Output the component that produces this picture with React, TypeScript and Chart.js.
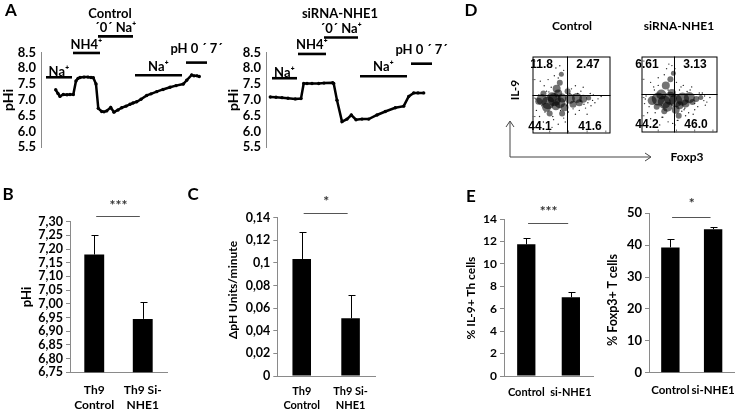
import React, { useEffect, useRef } from 'react';
import { Chart, registerables } from 'chart.js';

Chart.register(...registerables);

const FONT = 'Lato, "Open Sans", "DejaVu Sans", sans-serif';
const FLOW_FONT = '"Liberation Sans", Arial, sans-serif';
const AXIS_GREY = '#8a8a8a';

// ---------------- Panel A : pHi traces ----------------
const ctrlTime = [14.7, 17, 19, 22.3, 26, 29, 32.3, 35, 37, 39, 43, 47, 50, 52.3, 55, 57.3, 60.7, 63, 65.7, 69.7, 73, 77, 80.7, 85, 89, 92, 95.7, 100, 105.7, 110, 115.7, 122, 129, 135, 142.3, 145.7, 150.7, 153, 156, 158.3];
const ctrlPHi = [7.32, 7.2, 7.11, 7.17, 7.16, 7.17, 7.17, 7.6, 7.68, 7.71, 7.72, 7.72, 7.71, 7.7, 7.5, 6.73, 6.63, 6.62, 6.65, 6.76, 6.61, 6.68, 6.75, 6.8, 6.86, 6.9, 6.94, 7.02, 7.14, 7.19, 7.26, 7.33, 7.4, 7.45, 7.5, 7.62, 7.79, 7.76, 7.76, 7.74];
const siTime = [4.3, 10, 16, 22, 29.3, 35, 37.7, 41, 46, 52.7, 58, 66.7, 67.7, 71, 76, 81, 85.3, 90, 96, 102.7, 111, 119.3, 129.3, 137.7, 142.7, 147.7, 152, 157.7];
const siPHi = [7.09, 7.08, 7.07, 7.05, 7.03, 7.04, 7.52, 7.52, 7.52, 7.52, 7.53, 7.54, 7.52, 6.99, 6.31, 6.39, 6.52, 6.37, 6.39, 6.39, 6.52, 6.63, 6.75, 6.8, 7.11, 7.22, 7.22, 7.22];
const pHiTicks = [5.5, 6.0, 6.5, 7.0, 7.5, 8.0, 8.5];

const annLabels = ['Na⁺', 'NH4⁺', '´0´ Na⁺', 'Na⁺', 'pH 0 ´ 7´'];
const ctrlAnnStart = [5, 32, 57, 94, 145];
const ctrlAnnEnd = [31, 59, 92, 141, 166];
const ctrlAnnLevel = [7.715, 8.485, 9.01, 7.777, 8.18];
const ctrlAnnLabelLevel = [7.9, 8.73, 9.28, 8.05, 8.61];
const siAnnStart = [6, 32, 58, 94, 145];
const siAnnEnd = [31, 60, 92, 141, 166];
const siAnnLevel = [7.685, 8.454, 8.977, 7.746, 8.146];
const siAnnLabelLevel = [7.87, 8.73, 9.254, 8.05, 8.577];

// ---------------- Panel D : flow cytometry ----------------
const ctrlQuad = [43.7, 50.5];
const siQuad = [42.4, 51];
const ctrlQuadLabels = ['11.8', '2.47', '44.1', '41.6'];
const siQuadLabels = ['6.61', '3.13', '44.2', '46.0'];
const ctrlCloudX = [12, 20, 28, 35, 18, 30, 38, 8, 31, 35, 37, 33, 48, 57, 65, 72, 52, 60, 22, 38, 14, 45, 25, 41];
const ctrlCloudY = [44, 40, 44, 40, 34, 36, 46, 42, 58, 66, 77, 52, 45, 46, 45, 46, 38, 40, 26, 26, 52, 55, 47, 34];
const ctrlCloudR = [5.5, 6.5, 6.5, 5.5, 4.5, 4.5, 4.5, 3.5, 4, 3, 2.5, 4, 5, 5, 4, 2.5, 3.5, 3.5, 3, 3, 3, 3, 5, 4];
const ctrlDotX = [5, 9, 14, 18, 24, 27, 33, 40, 46, 50, 55, 62, 68, 74, 80, 84, 88, 10, 20, 30, 45, 55, 65, 75, 8, 16, 26, 42, 52, 60, 28, 35, 40, 70, 78, 25, 15, 48, 58, 66, 4, 12, 36, 44, 62, 71, 77, 53, 33, 21];
const ctrlDotY = [30, 22, 15, 55, 60, 18, 12, 20, 28, 58, 25, 55, 33, 52, 40, 45, 48, 68, 70, 85, 60, 62, 60, 36, 50, 28, 22, 15, 32, 30, 75, 88, 82, 25, 50, 8, 62, 52, 52, 38, 45, 36, 30, 36, 42, 40, 43, 50, 72, 54];
const siCloudX = [14, 22, 30, 38, 26, 34, 45, 54, 63, 72, 50, 58, 32, 38, 42, 45, 49, 20, 30, 78, 40, 67];
const siCloudY = [42, 44, 40, 45, 50, 34, 42, 44, 46, 44, 36, 38, 62, 70, 78, 30, 22, 34, 28, 46, 52, 40];
const siCloudR = [4.5, 6.5, 6.5, 6.5, 5, 5, 6.5, 6.5, 5.5, 3, 4, 4, 4, 3, 2.5, 4, 3, 3, 3, 2.5, 4, 3];
const siDotX = [4, 8, 12, 17, 22, 28, 35, 41, 47, 53, 58, 64, 70, 76, 82, 86, 90, 12, 22, 33, 40, 55, 66, 74, 6, 18, 27, 44, 56, 62, 30, 36, 44, 68, 80, 24, 16, 50, 60, 84, 5, 10, 26, 48, 70, 83, 57, 35, 46, 52];
const siDotY = [38, 26, 18, 56, 62, 20, 14, 12, 16, 28, 22, 56, 30, 52, 42, 40, 46, 66, 72, 84, 88, 62, 60, 34, 48, 26, 20, 10, 30, 26, 76, 90, 84, 24, 52, 10, 60, 56, 54, 36, 44, 34, 36, 16, 38, 48, 32, 56, 66, 60];
const flowTickValues = [22, 46, 70, 94];

// ---------------- Panels B, C, E : bar charts ----------------
const th9Cats = [['Th9', 'Control'], ['Th9 Si-', 'NHE1']];
const eCats = ['Control', 'si-NHE1'];
const bPHi = [7.18, 6.945];
const bErr = [0.07, 0.06];
const bTicks = [6.75, 6.8, 6.85, 6.9, 6.95, 7.0, 7.05, 7.1, 7.15, 7.2, 7.25, 7.3];
const cRate = [0.1035, 0.051];
const cErr = [0.0235, 0.0203];
const cTicks = [0, 0.02, 0.04, 0.06, 0.08, 0.1, 0.12, 0.14];
const cTickLabels = ['0', '0,02', '0,04', '0,06', '0,08', '0,1', '0,12', '0,14'];
const eIl9 = [11.74, 7.02];
const eIl9Err = [0.53, 0.44];
const eIl9Ticks = [0, 2, 4, 6, 8, 10, 12, 14];
const eFoxp3 = [39.3, 45.0];
const eFoxp3Err = [2.5, 0.8];
const eFoxp3Ticks = [0, 10, 20, 30, 40, 50];

// ---------------- helpers ----------------
function ChartBox({ left, top, width, height, make }: any) {
  const ref = useRef<HTMLCanvasElement>(null);
  useEffect(() => {
    const chart = new Chart(ref.current as HTMLCanvasElement, make());
    return () => chart.destroy();
  }, []);
  return (
    <canvas
      ref={ref}
      width={width}
      height={height}
      style={{ position: 'absolute', left, top, width, height }}
    />
  );
}

function Txt({ x, y, size = 12, rot = false, children, weight = 'bold', family = FONT }: any) {
  return (
    <div
      style={{
        position: 'absolute',
        left: x,
        top: y,
        transform: `translate(-50%, -50%)${rot ? ' rotate(-90deg)' : ''}`,
        whiteSpace: 'nowrap',
        fontSize: size,
        fontWeight: weight,
        lineHeight: 1,
        fontFamily: family,
        color: '#000',
      }}
    >
      {children}
    </div>
  );
}

function annotationPlugin(start: number[], end: number[], level: number[], labelLevel: number[]) {
  return {
    id: 'solutionBars',
    afterDraw(chart: any) {
      const { ctx, scales } = chart;
      const x = scales.x;
      const y = scales.y;
      ctx.save();
      ctx.strokeStyle = '#000';
      ctx.lineWidth = 2.6;
      ctx.fillStyle = '#000';
      ctx.font = `bold 13px ${FONT}`;
      ctx.textAlign = 'center';
      ctx.textBaseline = 'middle';
      start.forEach((s, i) => {
        const x0 = x.getPixelForValue(s);
        const x1 = x.getPixelForValue(end[i]);
        const py = y.getPixelForValue(level[i]);
        ctx.beginPath();
        ctx.moveTo(x0, py);
        ctx.lineTo(x1, py);
        ctx.stroke();
        ctx.fillText(annLabels[i], (x0 + x1) / 2, y.getPixelForValue(labelLevel[i]));
      });
      ctx.restore();
    },
  };
}

function traceConfig(time: number[], phi: number[], aS: number[], aE: number[], aL: number[], aLL: number[], padRight: number) {
  return {
    type: 'line',
    data: {
      datasets: [
        {
          data: time.map((t, i) => ({ x: t, y: phi[i] })),
          borderColor: '#000',
          backgroundColor: '#000',
          borderWidth: 2.5,
          pointRadius: 1.7,
          pointBorderWidth: 0,
          tension: 0,
          clip: false,
        },
      ],
    },
    options: {
      responsive: false,
      animation: false,
      layout: { padding: { top: 52.5, bottom: 10, left: 0, right: padRight } },
      plugins: { legend: { display: false }, tooltip: { enabled: false } },
      scales: {
        x: { type: 'linear', display: false, min: 0, max: 170 },
        y: {
          min: 5.5,
          max: 8.5,
          afterBuildTicks: (ax: any) => {
            ax.ticks = pHiTicks.map((v) => ({ value: v }));
          },
          afterFit: (ax: any) => {
            ax.width = 41;
          },
          ticks: {
            color: '#000',
            padding: 5,
            autoSkip: false,
            font: { family: FONT, size: 13, weight: 'bold' },
            callback: (v: any) => Number(v).toFixed(1),
          },
          grid: { display: false, drawTicks: false },
          border: { display: true, color: AXIS_GREY, width: 1 },
        },
      },
    },
    plugins: [annotationPlugin(aS, aE, aL, aLL)],
  };
}

function flowFramePlugin(quad: number[]) {
  return {
    id: 'flowFrame',
    afterDraw(chart: any) {
      const { ctx, chartArea: a, scales } = chart;
      const qx = Math.round(scales.x.getPixelForValue(quad[0])) + 0.5;
      const qy = Math.round(scales.y.getPixelForValue(quad[1])) + 0.5;
      ctx.save();
      ctx.strokeStyle = '#000';
      ctx.lineWidth = 1;
      ctx.strokeRect(a.left + 0.5, a.top + 0.5, a.right - a.left - 1, a.bottom - a.top - 1);
      ctx.beginPath();
      ctx.moveTo(qx, a.top);
      ctx.lineTo(qx, a.bottom);
      ctx.moveTo(a.left, qy);
      ctx.lineTo(a.right, qy);
      ctx.stroke();
      ctx.strokeStyle = '#666';
      ctx.beginPath();
      flowTickValues.forEach((v) => {
        const px = scales.x.getPixelForValue(v);
        const py = scales.y.getPixelForValue(v);
        ctx.moveTo(px, a.bottom);
        ctx.lineTo(px, a.bottom - 3);
        ctx.moveTo(a.left, py);
        ctx.lineTo(a.left + 3, py);
      });
      ctx.stroke();
      ctx.restore();
    },
  };
}

function flowConfig(cx: number[], cy: number[], cr: number[], dx: number[], dy: number[], quad: number[]) {
  return {
    type: 'bubble',
    data: {
      datasets: [
        {
          data: cx.map((x, i) => ({ x, y: cy[i], r: cr[i] })),
          backgroundColor: 'rgba(0,0,0,0.55)',
          borderWidth: 0,
          clip: 0,
        },
        {
          data: dx.map((x, i) => ({ x, y: dy[i], r: 0.7 })),
          backgroundColor: 'rgba(0,0,0,0.85)',
          borderWidth: 0,
          clip: 0,
        },
      ],
    },
    options: {
      responsive: false,
      animation: false,
      layout: { padding: 2 },
      plugins: { legend: { display: false }, tooltip: { enabled: false } },
      scales: {
        x: { type: 'linear', min: 0, max: 100, display: false },
        y: { type: 'linear', min: 0, max: 100, display: false },
      },
    },
    plugins: [flowFramePlugin(quad)],
  };
}

function barExtrasPlugin(values: number[], errors: number[], sigLevel: number, sigText: string, starLevel: number) {
  return {
    id: 'barExtras',
    afterDatasetsDraw(chart: any) {
      const { ctx, scales } = chart;
      const x = scales.x;
      const y = scales.y;
      const meta = chart.getDatasetMeta(0);
      ctx.save();
      ctx.strokeStyle = '#000';
      ctx.lineWidth = 1;
      values.forEach((v, i) => {
        const px = Math.round(meta.data[i].x) + 0.5;
        const base = y.getPixelForValue(v);
        const top = Math.round(y.getPixelForValue(v + errors[i])) + 0.5;
        ctx.beginPath();
        ctx.moveTo(px, base);
        ctx.lineTo(px, top);
        ctx.moveTo(px - 3, top);
        ctx.lineTo(px + 4, top);
        ctx.stroke();
      });
      const p0 = x.getPixelForValue(0);
      const p1 = x.getPixelForValue(1);
      const sy = Math.round(y.getPixelForValue(sigLevel)) + 0.5;
      ctx.strokeStyle = '#555';
      ctx.beginPath();
      ctx.moveTo(p0 + (p1 - p0) * 0.04, sy);
      ctx.lineTo(p0 + (p1 - p0) * 0.94, sy);
      ctx.stroke();
      ctx.fillStyle = '#333';
      ctx.font = `bold 14px ${FONT}`;
      ctx.textAlign = 'center';
      ctx.textBaseline = 'middle';
      ctx.fillText(sigText, (p0 + p1) / 2, y.getPixelForValue(starLevel) + 2);
      ctx.restore();
    },
  };
}

function barConfig(o: any) {
  return {
    type: 'bar',
    data: {
      labels: o.cats,
      datasets: [
        {
          data: o.values,
          backgroundColor: '#000',
          borderWidth: 0,
          barPercentage: o.barPct,
          categoryPercentage: 1,
        },
      ],
    },
    options: {
      responsive: false,
      animation: false,
      layout: { padding: { top: o.padTop, right: o.padRight, left: 0, bottom: 0 } },
      plugins: { legend: { display: false }, tooltip: { enabled: false } },
      scales: {
        x: {
          grid: { display: false, drawTicks: false },
          border: { display: true, color: AXIS_GREY, width: 1 },
          afterFit: (ax: any) => {
            ax.height = o.xHeight;
          },
          ticks: {
            color: '#000',
            padding: o.catPad,
            maxRotation: 0,
            autoSkip: false,
            font: { family: FONT, size: o.catSize, weight: 'bold', lineHeight: 1.25 },
          },
        },
        y: {
          min: o.min,
          max: o.max,
          afterBuildTicks: (ax: any) => {
            ax.ticks = o.ticks.map((v: number) => ({ value: v }));
          },
          afterFit: (ax: any) => {
            ax.width = o.yWidth;
          },
          ticks: {
            color: '#000',
            padding: 3,
            autoSkip: false,
            font: { family: FONT, size: o.tickSize, weight: 'bold' },
            callback: o.fmt,
          },
          grid: { display: true, drawOnChartArea: false, drawTicks: true, tickLength: 4, color: AXIS_GREY },
          border: { display: true, color: AXIS_GREY, width: 1 },
        },
      },
    },
    plugins: [barExtrasPlugin(o.values, o.errors, o.sigLevel, o.sigText, o.starLevel)],
  };
}

export default function App() {
  return (
    <div
      style={{
        position: 'absolute',
        left: 0,
        top: 0,
        width: 745,
        height: 413,
        background: '#fff',
        overflow: 'hidden',
        fontFamily: FONT,
      }}
    >
      {/* Panel A */}
      <ChartBox left={0} top={0} width={224} height={160}
        make={() => traceConfig(ctrlTime, ctrlPHi, ctrlAnnStart, ctrlAnnEnd, ctrlAnnLevel, ctrlAnnLabelLevel, 13)} />
      <ChartBox left={225} top={0} width={230} height={160}
        make={() => traceConfig(siTime, siPHi, siAnnStart, siAnnEnd, siAnnLevel, siAnnLabelLevel, 19)} />

      {/* Panel D */}
      <ChartBox left={526} top={50} width={91} height={90}
        make={() => flowConfig(ctrlCloudX, ctrlCloudY, ctrlCloudR, ctrlDotX, ctrlDotY, ctrlQuad)} />
      <ChartBox left={635} top={50} width={89} height={89}
        make={() => flowConfig(siCloudX, siCloudY, siCloudR, siDotX, siDotY, siQuad)} />

      {/* Panel B */}
      <ChartBox left={20} top={185} width={155} height={228}
        make={() => barConfig({
          cats: th9Cats, values: bPHi, errors: bErr, barPct: 0.41,
          padTop: 36.7, padRight: 8, xHeight: 40.7, catPad: 10, catSize: 12,
          min: 6.75, max: 7.3, ticks: bTicks, yWidth: 50, tickSize: 12.5,
          fmt: (v: any) => Number(v).toFixed(2).replace('.', ','),
          sigLevel: 7.321, sigText: '***', starLevel: 7.368,
        })} />

      {/* Panel C */}
      <ChartBox left={230} top={185} width={155} height={228}
        make={() => barConfig({
          cats: th9Cats, values: cRate, errors: cErr, barPct: 0.38,
          padTop: 32.7, padRight: 10, xHeight: 37, catPad: 8.7, catSize: 11,
          min: 0, max: 0.14, ticks: cTicks, yWidth: 47.3, tickSize: 12.5,
          fmt: (v: any, i: number) => cTickLabels[i],
          sigLevel: 0.1444, sigText: '*', starLevel: 0.1565,
        })} />

      {/* Panel E */}
      <ChartBox left={478} top={185} width={125} height={228}
        make={() => barConfig({
          cats: eCats, values: eIl9, errors: eIl9Err, barPct: 0.41,
          padTop: 34, padRight: 7, xHeight: 37, catPad: 9.7, catSize: 11,
          min: 0, max: 14, ticks: eIl9Ticks, yWidth: 26, tickSize: 12,
          fmt: (v: any) => String(v),
          sigLevel: 13.67, sigText: '***', starLevel: 14.87,
        })} />
      <ChartBox left={620} top={185} width={125} height={228}
        make={() => barConfig({
          cats: eCats, values: eFoxp3, errors: eFoxp3Err, barPct: 0.43,
          padTop: 28.3, padRight: 1, xHeight: 40.3, catPad: 10, catSize: 11.5,
          min: 0, max: 50, ticks: eFoxp3Ticks, yWidth: 29, tickSize: 13,
          fmt: (v: any) => String(v),
          sigLevel: 48.75, sigText: '*', starLevel: 53.6,
        })} />

      {/* Axis arrows for D */}
      <svg width={745} height={413} style={{ position: 'absolute', left: 0, top: 0, pointerEvents: 'none' }}>
        <polyline points="510,122 510,157 650,157" fill="none" stroke="#444" strokeWidth={1} />
        <polyline points="506,127 510,121 514,127" fill="none" stroke="#444" strokeWidth={1} />
        <polyline points="645,153 651,157 645,161" fill="none" stroke="#444" strokeWidth={1} />
      </svg>

      {/* Panel letters */}
      <Txt x={11} y={9} size={17}>A</Txt>
      <Txt x={8} y={193} size={17}>B</Txt>
      <Txt x={193} y={193} size={17}>C</Txt>
      <Txt x={471} y={9} size={17}>D</Txt>
      <Txt x={471} y={195} size={17}>E</Txt>

      {/* Panel A texts */}
      <Txt x={110} y={13} size={13}>Control</Txt>
      <Txt x={340} y={13} size={13}>siRNA-NHE1</Txt>
      <Txt x={8} y={100} size={14} rot>pHi</Txt>
      <Txt x={233} y={100} size={14} rot>pHi</Txt>

      {/* Panel D texts */}
      <Txt x={572} y={26} size={12}>Control</Txt>
      <Txt x={679} y={26} size={12}>siRNA-NHE1</Txt>
      <Txt x={515} y={90} size={12} rot>IL-9</Txt>
      <Txt x={687} y={157} size={12}>Foxp3</Txt>
      <Txt x={541.7} y={64} size={12} family={FLOW_FONT}>{ctrlQuadLabels[0]}</Txt>
      <Txt x={588} y={64} size={12} family={FLOW_FONT}>{ctrlQuadLabels[1]}</Txt>
      <Txt x={540} y={126} size={12} family={FLOW_FONT}>{ctrlQuadLabels[2]}</Txt>
      <Txt x={590} y={126} size={12} family={FLOW_FONT}>{ctrlQuadLabels[3]}</Txt>
      <Txt x={647} y={64} size={12} family={FLOW_FONT}>{siQuadLabels[0]}</Txt>
      <Txt x={695} y={64} size={12} family={FLOW_FONT}>{siQuadLabels[1]}</Txt>
      <Txt x={647} y={124} size={12} family={FLOW_FONT}>{siQuadLabels[2]}</Txt>
      <Txt x={696} y={124} size={12} family={FLOW_FONT}>{siQuadLabels[3]}</Txt>

      {/* Bar panel axis titles */}
      <Txt x={26} y={297} size={13} rot>pHi</Txt>
      <Txt x={233} y={290} size={12} rot>ΔpH Units/minute</Txt>
      <Txt x={471} y={298} size={12} rot>% IL-9+ Th cells</Txt>
      <Txt x={613} y={300} size={12.5} rot>% Foxp3+ T cells</Txt>
    </div>
  );
}
